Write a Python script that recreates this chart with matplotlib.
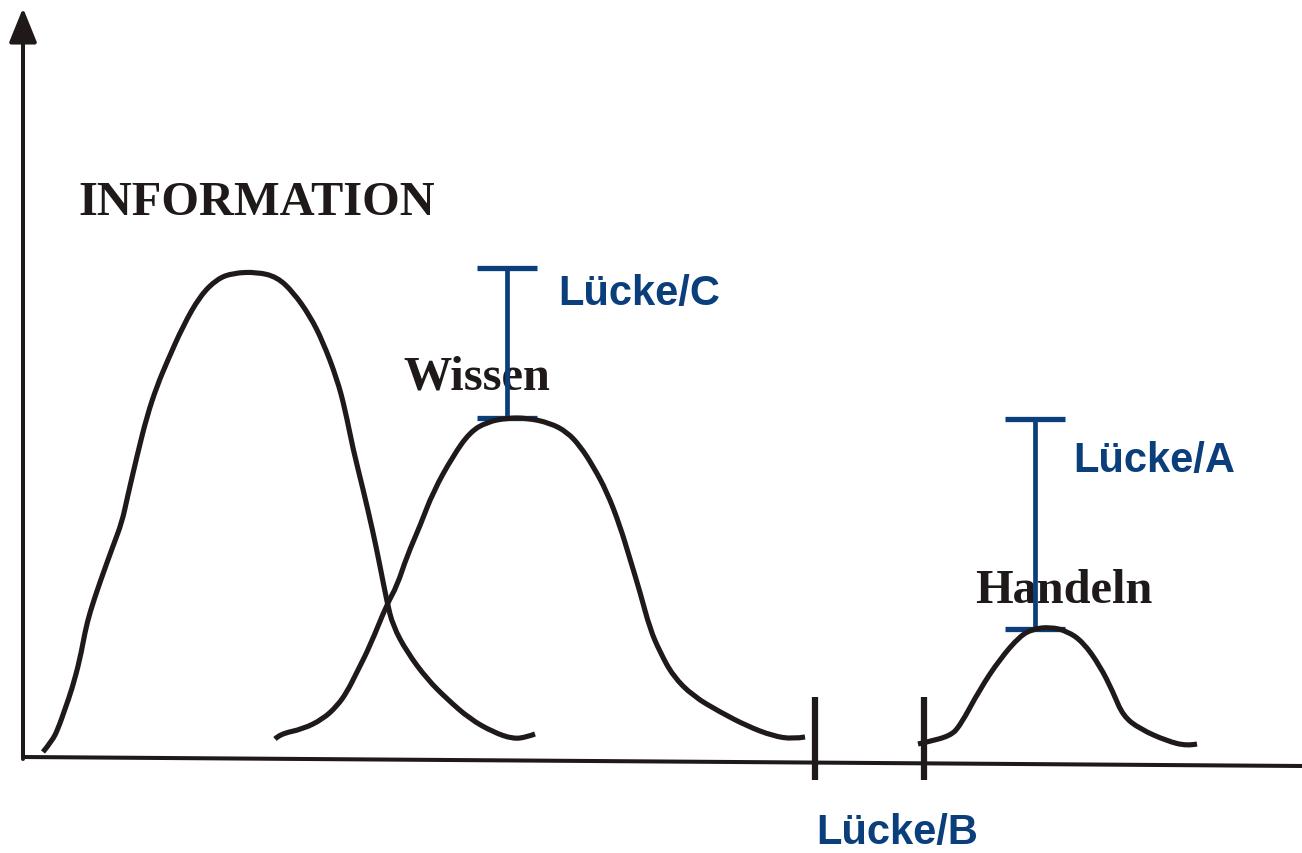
import matplotlib
matplotlib.use("Agg")
import matplotlib.pyplot as plt
from matplotlib.path import Path
from matplotlib.patches import PathPatch

# curve outlines (pixel coords, y grows downwards)
info_x = [43, 52, 58, 65, 72, 80, 85, 90, 100, 113, 122, 127, 137, 147, 157, 167, 183, 200,
          217, 233, 257, 277, 293, 310, 323, 337, 345, 353, 363, 373, 380, 387, 393, 407,
          427, 447, 470, 493, 513, 527, 535]
info_y = [753, 742, 730, 710, 690, 660, 633, 613, 583, 547, 523, 500, 457, 417, 387, 363, 327, 297,
          280, 274, 273, 278, 293, 317, 343, 380, 410, 450, 490, 533, 567, 603, 627, 653,
          680, 700, 720, 733, 740, 738, 735]

wissen_x = [275, 280, 303, 323, 337, 347, 357, 370, 387, 397, 407, 420, 433, 453, 470, 487, 507,
            527, 550, 567, 580, 593, 607, 620, 630, 640, 650, 660, 673, 693, 720, 747, 773,
            793, 805]
wissen_y = [740, 735, 730, 720, 707, 693, 673, 647, 605, 587, 557, 527, 493, 457, 433, 423, 419,
            419, 424, 433, 447, 467, 493, 527, 560, 593, 630, 653, 677, 697, 713, 727, 737,
            740, 738]

handeln_x = [918, 927, 950, 960, 980, 1000, 1020, 1033, 1050, 1067, 1083, 1100, 1113, 1123,
             1140, 1167, 1187, 1197]
handeln_y = [745, 743, 737, 727, 690, 660, 637, 630, 628, 632, 643, 667, 693, 717,
             730, 742, 747, 745]

# gap markers (Lücke A / C): x, top, bottom
gap_x = [507, 1035]
gap_top = [269, 420]
gap_bottom = [419, 630]
cap_half = 30

# Lücke/B ticks on the x axis
tick_x = [815, 924]
tick_top = 698
tick_bottom = 781

labels = ["INFORMATION", "Wissen", "Handeln"]
label_pos = [(78, 215), (403, 390), (975, 603)]
gap_labels = ["Lücke/C", "Lücke/A", "Lücke/B"]
gap_label_pos = [(558, 305), (1073, 472), (816, 844)]

ink = "#1f1a19"
blue = "#0b3f7c"


def smooth_path(xs, ys):
    # quadratic bezier through the midpoints, read points used as control points
    pts = list(zip(xs, ys))
    verts = [pts[0]]
    codes = [Path.MOVETO]
    for i in range(1, len(pts) - 1):
        mid = ((pts[i][0] + pts[i + 1][0]) / 2, (pts[i][1] + pts[i + 1][1]) / 2)
        if i == len(pts) - 2:
            mid = pts[-1]
        verts += [pts[i], mid]
        codes += [Path.CURVE3, Path.CURVE3]
    return Path(verts, codes)


fig = plt.figure(figsize=(13.02, 8.54), dpi=100)
ax = fig.add_axes([0, 0, 1, 1])
ax.set_xlim(0, 1302)
ax.set_ylim(854, 0)
ax.axis("off")

# axes of the sketch
ax.plot([22, 1302], [758, 767], color=ink, lw=2.9, solid_capstyle="butt", zorder=2)
ax.annotate("", xy=(23, 9), xytext=(23, 760),
            arrowprops=dict(arrowstyle="-|>,head_length=2.1,head_width=0.85",
                            mutation_scale=10, lw=2.9, color=ink, shrinkA=0, shrinkB=0),
            zorder=2)

for x in tick_x:
    ax.plot([x, x], [tick_top, tick_bottom], color=ink, lw=4.5, solid_capstyle="butt", zorder=2)

# blue gap bars
for x, t, b in zip(gap_x, gap_top, gap_bottom):
    ax.plot([x, x], [t, b], color=blue, lw=3.4, solid_capstyle="butt", zorder=3)
    ax.plot([x - cap_half, x + cap_half], [t, t], color=blue, lw=3.8, solid_capstyle="butt", zorder=3)
    ax.plot([x - cap_half, x + cap_half], [b, b], color=blue, lw=3.8, solid_capstyle="butt", zorder=3)

# the three curves
for cx, cy in [(info_x, info_y), (wissen_x, wissen_y), (handeln_x, handeln_y)]:
    ax.add_patch(PathPatch(smooth_path(cx, cy), facecolor="none", edgecolor=ink, lw=3.7,
                           joinstyle="round", capstyle="butt", zorder=4))

for txt, (x, y) in zip(labels, label_pos):
    ax.text(x, y, txt, fontfamily="Liberation Serif", fontweight="bold", fontsize=34.8,
            color=ink, ha="left", va="baseline", zorder=1)

for txt, (x, y) in zip(gap_labels, gap_label_pos):
    ax.text(x, y, txt, fontfamily="Liberation Sans", fontweight="bold", fontsize=30,
            color=blue, ha="left", va="baseline", zorder=1)

fig.savefig("out.png", dpi=100)
